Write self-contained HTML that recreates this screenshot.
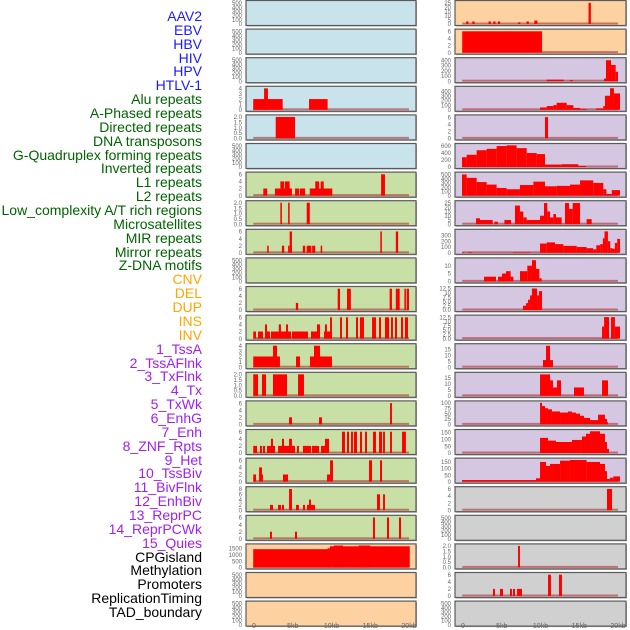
<!DOCTYPE html>
<html><head><meta charset="utf-8"><style>
html,body{margin:0;padding:0;background:#fff;}
#wrap{position:relative;width:630px;height:630px;overflow:hidden;}
.lab{position:absolute;right:428px;font-family:"Liberation Sans",sans-serif;font-size:14px;line-height:14px;white-space:nowrap;}
</style></head><body>
<div id="wrap">
<svg id="chart" width="630" height="630" style="position:absolute;left:0;top:0"></svg>
</div>
<script>
const labelNames = ["AAV2","EBV","HBV","HIV","HPV","HTLV-1","Alu repeats","A-Phased repeats","Directed repeats","DNA transposons","G-Quadruplex forming repeats","Inverted repeats","L1 repeats","L2 repeats","Low_complexity A/T rich regions","Microsatellites","MIR repeats","Mirror repeats","Z-DNA motifs","CNV","DEL","DUP","INS","INV","1_TssA","2_TssAFlnk","3_TxFlnk","4_Tx","5_TxWk","6_EnhG","7_Enh","8_ZNF_Rpts","9_Het","10_TssBiv","11_BivFlnk","12_EnhBiv","13_ReprPC","14_ReprPCWk","15_Quies","CPGisland","Methylation","Promoters","ReplicationTiming","TAD_boundary"];
const labelColors = ["#1a1aff","#1a1aff","#1a1aff","#1a1aff","#1a1aff","#1a1aff","#006400","#006400","#006400","#006400","#006400","#006400","#006400","#006400","#006400","#006400","#006400","#006400","#006400","#ffa500","#ffa500","#ffa500","#ffa500","#ffa500","#a020f0","#a020f0","#a020f0","#a020f0","#a020f0","#a020f0","#a020f0","#a020f0","#a020f0","#a020f0","#a020f0","#a020f0","#a020f0","#a020f0","#a020f0","#000","#000","#000","#000","#000"];

const B="#c8e3eb",G="#c8e0a5",O="#fdd1a0",P="#d5c6e1",Y="#d0d0d0";
const leftBg = [B,B,B,B,B,B,G,G,G,G,G,G,G,G,G,G,G,G,G,O,O,O];
const rightBg = [O,O,P,P,P,P,P,P,P,P,P,P,P,P,P,P,P,Y,Y,Y,Y,Y];
const T500=[0,100,200,300,400,500], T6=[0,2,4,6], T2=[0,0.5,1,1.5,2], T4=[0,1,2,3,4], T125=[0,2.5,5,7.5,10,12.5];
const leftTicks = [T500,T500,T500,T4,T2,T500,T6,T2,T6,T500,T6,T6,T4,T2,T6,T6,T6,[0,2,4,6,8],T6,[0,500,1000,1500],T500,T500];
const rightTicks = [[0,5,10,15,20,25],T6,[0,100,200,300,400],[0,100,200,300,400],T6,[0,200,400,600],T500,[0,5,10,15,20,25],[0,100,200,300],[0,5,10],T125,T125,[0,5,10,15],[0,5,10,15],[0,25,50,75,100],[0,50,100,150],[0,50,100,150],T6,T500,T2,T6,T500];
const leftMax = [520,520,520,4.1,2.05,520,6.2,2.05,6.2,520,6.2,6.2,4.1,2.05,6.2,6.2,6.2,8.3,6.2,1750,520,520];
const rightMax = [26,6.2,420,470,6.2,630,520,26,380,14,12.8,12.8,18.5,18.5,102,160,168,6.2,520,2.05,6.2,520];

const leftBars = [
 [],[],[],
 [[-0.1,3.7,2],[1.3,1.8,4],[7.1,9.5,2]],
 [[2.8,5.3,2]],
 [],
 [[1.2,1.7,2],[2.7,4.9,2],[3.4,3.9,4],[4,4.6,4],[5.3,5.8,2],[5.9,6.6,2],[7.2,10.1,2],[7.9,8.4,4],[8.6,9,4],[16.4,16.9,6]],
 [[3.4,3.6,2],[4.4,4.6,2],[6.8,7.2,2]],
 [[1.7,1.9,2],[3.6,3.9,2],[4.4,4.6,2],[4.6,4.9,6],[6.3,6.6,2],[6.8,7.4,2],[7.5,7.9,2],[8.6,8.8,2],[16.3,16.5,6],[18.3,18.6,6]],
 [],
 [[5.4,5.7,2],[10.8,11.1,6],[12,12.5,6],[17.5,17.8,6],[18.3,18.8,6],[19.4,19.6,6],[19.7,20,6]],
 [[-0.1,0.26,2],[0.52,1.16,2],[1.42,2.06,2],[2.19,4.77,2],[4.9,6.97,2],[7.35,8.52,2],[9.03,10.06,2],[1.42,1.68,4],[3.2,3.48,4],[4.13,4.39,4],[8.13,8.52,4],[9.16,9.42,4],[9.81,10.06,6],[11.1,11.35,6],[11.87,12.13,6],[13.16,13.42,6],[13.67,14.19,6],[15.23,15.74,6],[16.13,16.39,6],[16.9,17.42,6],[17.68,17.93,6],[18.19,18.45,6],[18.97,19.23,6],[19.48,19.87,6]],
 [[-0.1,3.35,2],[2.45,2.97,4],[5.42,5.94,2],[7.22,10.06,2],[7.74,8.52,4]],
 [[-0.1,0.52,2],[1.03,1.55,2],[2.45,4.26,2],[5.68,6.45,2]],
 [[4.52,4.9,2],[8.39,8.77,2],[17.55,17.8,6]],
 [[-0.1,0.39,2],[0.77,1.03,2],[1.16,1.42,2],[1.68,2.71,2],[3.1,5.03,2],[5.03,5.29,2],[5.55,5.8,2],[6.32,7.35,2],[7.48,8.39,2],[8.65,9.68,2],[2.19,2.45,4],[3.61,3.87,4],[4.52,4.9,4],[9.16,9.68,4],[11.35,11.74,6],[12,12.26,6],[12.52,12.77,6],[12.9,13.29,6],[13.68,13.94,6],[14.32,14.58,6],[15.35,15.74,6],[16.13,16.52,6],[16.65,16.9,6],[17.55,17.8,6],[19.1,19.6,6]],
 [[-0.1,0.26,2],[0.65,1.03,4],[1.03,1.16,2],[3.74,4.39,2],[9.42,9.81,2],[9.81,10.19,6],[14.84,15.23,6],[16.26,16.52,6]],
 [[2.06,2.45,2],[3.1,3.48,2],[3.61,3.87,2],[4.52,4.9,8],[5.42,5.8,2],[6.32,6.58,2],[6.84,7.87,2],[7.1,7.35,4],[15.87,16.26,6],[16.65,16.9,6]],
 [[2.06,2.32,2],[5.29,5.55,2],[15.35,15.61,6],[17.16,17.42,6],[18.71,18.97,6]],
 [[-0.1,9.8,1450],[9.5,9.8,1520],[9.8,20.1,1680],[10.3,11.5,1740],[13.5,15,1740]],
 [],[]
];
const rightBars = [
 [[0.4,0.7,3],[1.2,1.5,3],[3.3,3.6,3],[3.9,4.2,3],[4.5,4.8,3],[7.1,7.4,2],[8.2,8.5,3],[9.2,9.6,4],[16.2,16.5,25]],
 [[-0.1,10.2,6]],
 [[10.8,13,30],[13.8,14.2,20],[18.2,18.45,50],[18.45,19.1,400],[19.1,19.7,310],[19.7,20,180]],
 [[9.94,10.8,50],[10.8,11.66,80],[11.66,12.09,100],[12.09,13.38,150],[13.38,14.24,100],[14.24,15.1,40],[15.1,15.95,20],[17.16,18.1,30],[18.1,18.32,80],[18.32,18.97,300],[18.97,19.48,460],[19.48,20.26,350]],
 [[10.58,10.97,6]],
 [[-0.13,0.47,280],[0.47,1.76,350],[1.76,3.05,480],[3.05,4.34,520],[4.34,5.63,600],[5.63,6.92,620],[6.92,8.22,540],[8.22,9.51,400],[9.51,10.58,370],[10.58,12.73,70],[12.73,14.88,80],[14.88,15.87,30]],
 [[-0.13,0.47,500],[0.47,1.76,420],[1.76,3.05,320],[3.05,4.34,260],[4.34,5.63,180],[5.63,7.35,150],[7.35,9.08,250],[9.08,10.58,330],[10.58,12.09,220],[12.09,13.8,230],[13.8,15.1,260],[15.1,16.8,360],[16.8,18.1,300],[18.1,18.5,150],[18.5,19.2,40],[19.2,20.26,130]],
 [[1.68,2.19,7],[2.19,3.83,5],[4.05,4.5,3],[5.34,6.2,5],[6.71,7.35,22],[7.35,7.78,15],[7.78,8.22,8],[8.22,9.94,5],[9.94,10.45,10],[10.45,10.88,25],[10.88,11.23,15],[11.23,11.66,8],[11.66,12,12],[12,12.73,8],[13.16,13.68,25],[13.68,14.15,18],[14.15,15.1,25],[15.95,16.6,6]],
 [[-0.13,0.13,10],[0.65,1.16,10],[6.45,8.65,5],[9.94,10.8,160],[10.8,11.87,180],[11.87,12.95,150],[12.95,14.67,120],[14.67,15.95,100],[15.95,16.8,80],[16.8,17.2,60],[17.2,17.7,130],[17.7,18.05,150],[18.05,18.26,250],[18.26,18.7,370],[18.7,19,200],[19,19.3,80],[19.3,19.6,70],[19.6,19.9,170],[19.9,20.26,240]],
 [[2.71,4.26,3],[4.52,5.03,3],[5.03,5.55,5],[5.55,6.15,6.5],[6.15,6.5,3],[7.35,8.3,6.5],[8.3,8.9,10],[8.9,9.42,13.5],[9.42,9.85,8],[9.85,10.15,2]],
 [[7.74,8.13,2.5],[8.13,8.39,4],[8.39,8.65,6],[8.65,8.9,8.5],[8.9,9.55,12.5],[9.55,9.81,8.5],[9.81,10.2,11]],
 [[17.94,18.2,7],[18.2,18.84,12.5],[19.1,19.6,12.5],[19.6,20.26,7]],
 [[10.32,10.71,6],[10.71,11.23,18],[11.23,11.61,6]],
 [[9.94,11.23,18],[11.23,11.61,13],[11.61,12.13,7],[12.13,12.65,13],[14.32,15.61,7],[17.94,18.71,13]],
 [[9.94,10.19,100],[10.19,10.58,85],[10.58,10.97,75],[10.97,11.48,70],[11.48,12.52,60],[12.52,13.55,55],[13.55,14.06,60],[14.06,14.58,55],[14.58,15.1,50],[15.1,15.61,40],[15.61,16.39,30],[16.39,17.42,20],[17.42,18.32,45],[18.32,18.58,25],[18.58,18.71,10]],
 [[9.94,10.97,110],[10.97,12,90],[12,14.06,80],[14.06,15.35,95],[15.35,15.87,120],[15.87,16.39,140],[16.39,17.68,158],[17.68,18.32,140],[18.32,18.58,80],[18.58,18.84,30]],
 [[-0.13,9.42,12],[9.42,9.94,25],[9.94,10.71,150],[10.71,11.23,120],[11.23,11.74,135],[11.74,12.52,135],[12.52,13.8,160],[13.8,15.95,165],[15.95,17.68,150],[17.68,18.32,135],[18.32,18.58,80],[18.58,18.97,20],[18.97,19.4,30],[19.4,20.26,40]],
 [[18.58,19.23,6]],
 [],
 [[7.1,7.35,2]],
 [[3.87,4.13,2],[4.77,5.16,2],[6.06,6.32,2],[6.45,6.71,2],[6.97,7.61,2],[10.97,11.35,6],[12.39,12.77,6]],
 []
];
const xTickVals = [0,5,10,15,20];
const xTickLabels = ["0","5kb","10kb","15kb","20kb"];

const NS="http://www.w3.org/2000/svg";
const svg=document.getElementById('chart');
function mk(tag,attrs,parent){const e=document.createElementNS(NS,tag);for(const k in attrs)e.setAttribute(k,attrs[k]);(parent||svg).appendChild(e);return e;}
const PITCH=28.6, PH=25;
const colX=[{x0:246,w:170,zero:254},{x0:455,w:171,zero:463}];
const KB=7.75;
function xScale(col,kb){return colX[col].zero+kb*KB;}
function yScale(top,max,v){const y0=top+PH-1.5, y1=top+1.5;return y0-(v/max)*(y0-y1);}

function drawPanel(col,r,bg,ticks,max,bars){
  const top=0.5+r*PITCH, c=colX[col];
  const g=mk('g',{});
  
  
  mk('rect',{x:c.x0+1,y:top+1,width:c.w,height:PH,fill:'#aaa'},g);
  mk('rect',{x:c.x0,y:top,width:c.w,height:PH,fill:bg,stroke:'#5a5a5a','stroke-width':1.2},g);
  if(bars.length){
    const bl=mk('rect',{x:xScale(col,-0.1),y:top+PH-3,width:20.1*KB,height:2,fill:'#b03030',opacity:0.6},g);
    
    
  }
  bars.forEach(b=>{
    const y=yScale(top,max,b[2]), yb=yScale(top,max,0);
    const e=mk('rect',{x:xScale(col,b[0]),y:y,width:Math.max(1,xScale(col,b[1])-xScale(col,b[0])),height:Math.max(0.5,yb-y),fill:'#ff0000'},g);
    
    
  });
  ticks.forEach(t=>{
    const e=mk('text',{x:c.x0-4,y:yScale(top,max,t)+2.2,'text-anchor':'end','font-family':'Liberation Sans, sans-serif','font-size':6,fill:'#666'},g);
    e.textContent=String(t).length===1&&ticks.some(v=>String(v).includes('.'))?t.toFixed(1):String(t);
    
    
  });
}
for(let r=0;r<22;r++){
  drawPanel(0,r,leftBg[r],leftTicks[r],leftMax[r],leftBars[r]);
  drawPanel(1,r,rightBg[r],rightTicks[r],rightMax[r],rightBars[r]);
}
for(let col=0;col<2;col++){
  xTickVals.forEach((v,i)=>{
    const e=mk('text',{x:xScale(col,v),y:628,'text-anchor':'middle','font-family':'Liberation Sans, sans-serif','font-size':7,fill:'#666'});
    e.textContent=xTickLabels[i];
    
    
  });
}
const wrap=document.getElementById('wrap');
labelNames.forEach((n,i)=>{
  const d=document.createElement('div');
  d.className='lab';
  d.style.top=(9+i*13.86)+'px';
  d.style.color=labelColors[i];
  d.textContent=n;
  
  
  wrap.appendChild(d);
});
</script>
</body></html>
